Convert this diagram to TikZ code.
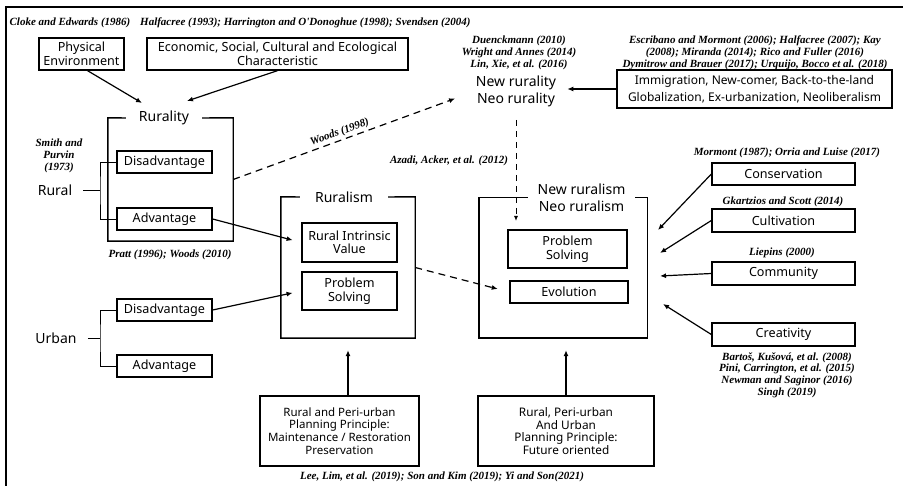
\documentclass[tikz,border=0pt]{standalone}
\usepackage{fontspec}
\setmainfont{Noto Sans}
\newfontfamily\citefont{Liberation Serif}
\usetikzlibrary{arrows.meta,calc}
\begin{document}
\begin{tikzpicture}[x=1pt,y=-1pt,
  box/.style={draw,line width=1.3pt,align=center,inner sep=0pt,font=\fontsize{12.6}{13.5}\selectfont},
  cite/.style={font=\citefont\bfseries\itshape\fontsize{11}{11.8}\selectfont,align=center,inner sep=0pt},
  big/.style={font=\fontsize{14}{17}\selectfont,align=center,inner sep=0pt},
  cont/.style={line width=1.4pt},
  holder/.style={draw=none,inner sep=0pt},
  brk/.style={line width=0.9pt},
  arr/.style={-{Latex[length=6pt,width=5pt]},line width=1.2pt},
  darr/.style={arr,dash pattern=on 7pt off 5pt},
  vdarr/.style={-{Latex[length=5pt,width=4pt]},line width=1pt,dash pattern=on 6pt off 5pt}
]
\useasboundingbox (0,0) rectangle (903,486);
\draw[line width=1.6pt] (6,486) -- (6,7) -- (903,7);

% top citations
\node[cite] (cloke) at (70,23) {Cloke and Edwards (1986)};
\node[cite,anchor=west] (halfa) at (140,23) {Halfacree (1993); Harrington and O'Donoghue (1998); Svendsen (2004)};

% top boxes
\node[box,minimum width=85,minimum height=32] (phys) at (81.5,54) {Physical\\Environment};
\node[box,minimum width=261,minimum height=32] (econ) at (277.5,54) {Economic, Social, Cultural and Ecological\\Characteristic};

% Rurality container
\node[holder,minimum width=125,minimum height=123] (rty) at (170.5,179.5) {};
\node[big,minimum width=76,minimum height=16] (rtyt) at (164,118) {Rurality};
\draw[cont] (rtyt.west) -- (rty.north west) -- (rty.south west) -- (rty.south east) -- (rty.north east) -- (rtyt.east);
\node[box,minimum width=95,minimum height=22] (rdis) at (164.5,162) {Disadvantage};
\node[box,minimum width=95,minimum height=22] (radv) at (164.5,219) {Advantage};

\node[cite] (smith) at (59,156) {Smith and\\Purvin\\(1973)};
\node[big] (rural) at (55,190) {Rural};
\coordinate (rj) at (100,190);
\draw[brk] ([xshift=11pt]rural.east) -- (rj);
\draw[brk] (rdis.west) -| (rj) |- (radv.west);
\node[cite] (pratt) at (170,255) {Pratt (1996); Woods (2010)};

% Urban
\node[box,minimum width=95,minimum height=22] (udis) at (164.5,310) {Disadvantage};
\node[box,minimum width=95,minimum height=22] (uadv) at (164.5,366) {Advantage};
\node[big] (urban) at (56,338) {Urban};
\coordinate (uj) at (100,338);
\draw[brk] ([xshift=11pt]urban.east) -- (uj);
\draw[brk] (udis.west) -| (uj) |- (uadv.west);

% Ruralism container
\node[holder,minimum width=134,minimum height=141] (rsm) at (348,267.5) {};
\node[big,minimum width=88,minimum height=16] (rsmt) at (344,197) {Ruralism};
\draw[cont] (rsmt.west) -- (rsm.north west) -- (rsm.south west) -- (rsm.south east) -- (rsm.north east) -- (rsmt.east);
\node[box,minimum width=95,minimum height=39] (riv) at (349.5,242.5) {Rural Intrinsic\\Value};
\node[box,minimum width=95,minimum height=38] (rps) at (349.5,291) {Problem\\Solving};

% New rurality
\node[cite] (duen) at (519,53) {Duenckmann (2010)\\Wright and Annes (2014)\\Lin, Xie, et al. (2016)};
\node[big] (nr) at (516,91) {New rurality\\Neo rurality};
\node[cite] (escr) at (755,53) {Escribano and Mormont (2006); Halfacree (2007); Kay\\(2008); Miranda (2014); Rico and Fuller (2016)\\Dymitrow and Brauer (2017); Urquijo, Bocco et al. (2018)};
\node[box,minimum width=275,minimum height=38,font=\fontsize{12}{17}\selectfont] (imm) at (754.5,89) {Immigration, New-comer, Back-to-the-land\\Globalization, Ex-urbanization, Neoliberalism};

% New ruralism container
\node[holder,minimum width=168,minimum height=140] (nrm) at (563,268) {};
\node[big,minimum width=107] (nrmt) at (581.5,198) {New ruralism\\Neo ruralism};
\draw[cont] (nrmt.west |- nrm.north) -- (nrm.north west) -- (nrm.south west) -- (nrm.south east) -- (nrm.north east) -- (nrmt.east |- nrm.north);
\node[box,minimum width=119,minimum height=38] (nps) at (567.5,249) {Problem\\Solving};
\node[box,minimum width=118,minimum height=22] (evo) at (569,292) {Evolution};

\node[cite] (azadi) at (449,161) {Azadi, Acker, et al. (2012)};

% right boxes
\node[cite] (morm) at (787,153) {Mormont (1987); Orria and Luise (2017)};
\node[box,minimum width=143,minimum height=22] (cons) at (783.5,174) {Conservation};
\node[cite] (gkar) at (783,202) {Gkartzios and Scott (2014)};
\node[box,minimum width=143,minimum height=23] (cult) at (783.5,220.5) {Cultivation};
\node[cite] (liep) at (782,253) {Liepins (2000)};
\node[box,minimum width=143,minimum height=23] (comm) at (783.5,273.5) {Community};
\node[box,minimum width=143,minimum height=23] (crea) at (783.5,334.5) {Creativity};
\node[cite] (bart) at (787,375) {Bartoš, Kušová, et al. (2008)\\Pini, Carrington, et al. (2015)\\Newman and Saginor (2016)\\Singh (2019)};

% bottom boxes
\node[box,minimum width=159,minimum height=70,font=\fontsize{11.5}{12.8}\selectfont] (b1) at (339.5,431) {Rural and Peri-urban\\Planning Principle:\\Maintenance / Restoration\\Preservation};
\node[box,minimum width=176,minimum height=70,font=\fontsize{11.8}{12.8}\selectfont] (b2) at (566,431) {Rural, Peri-urban\\And Urban\\Planning Principle:\\Future oriented};
\node[cite] (lee) at (442,477) {Lee, Lim, et al. (2019); Son and Kim (2019); Yi and Son(2021)};

% arrows
\coordinate (pe) at (142,103);
\coordinate (ee) at (187,101);
\draw[arr] ([xshift=6pt]phys.south) -- (pe);
\draw[arr] (econ.south) -- (ee);
\draw[arr,shorten >=9pt] (radv.east) -- (riv.west);
\draw[arr,shorten >=9pt] (udis.east) -- (rps.west);
\draw[darr,shorten >=12pt] (rsm.east) -- (evo.west);
\draw[darr,shorten >=22pt] (rty.east) -- (nr.west)
  node[midway,sloped,above=2pt,cite,pos=0.45] (woods) {Woods (1998)};
\draw[arr,shorten >=11pt] (imm.west) -- (imm.west -| nr.east);
\coordinate (vt) at (516,120);
\coordinate (vb) at (516,221);
\draw[vdarr] (vt) -- (vb);
\coordinate (c1) at (658,230);
\coordinate (c2) at (660,253);
\coordinate (c3) at (660,276);
\coordinate (c4) at (663,304);
\draw[arr] (cons.west) -- (c1);
\draw[arr] (cult.west) -- (c2);
\draw[arr] (comm.west) -- (c3);
\draw[arr] (crea.west) -- (c4);
\draw[arr,shorten >=12pt] (b1.north -| rsm.south) -- (rsm.south);
\draw[arr,shorten >=12pt] (b2.north) -- (b2.north |- nrm.south);
\end{tikzpicture}
\end{document}
